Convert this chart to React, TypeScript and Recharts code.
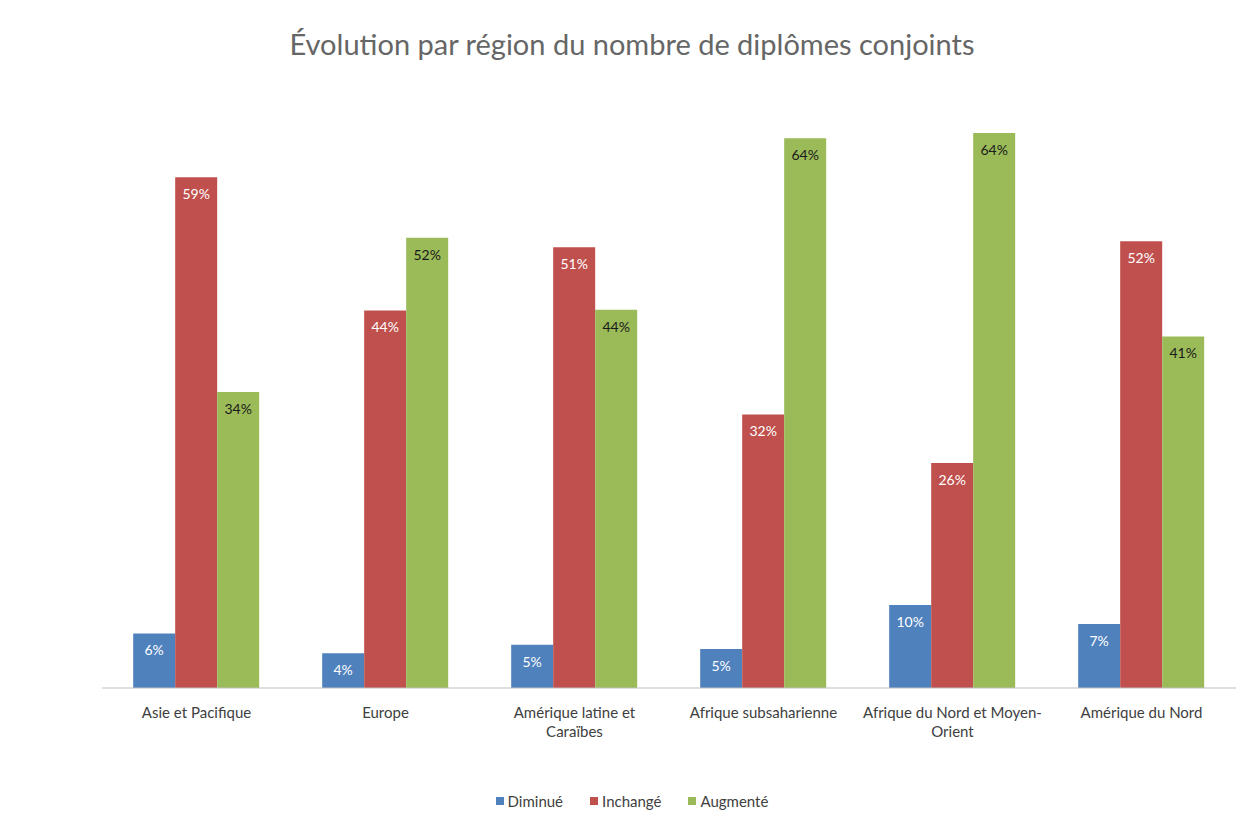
import { BarChart, Bar, XAxis, YAxis, Legend, LabelList } from "recharts";

const regions = [
  "Asie et Pacifique",
  "Europe",
  "Amérique latine et Caraïbes",
  "Afrique subsaharienne",
  "Afrique du Nord et Moyen-Orient",
  "Amérique du Nord",
];
const diminue = [6.3, 4.0, 5.0, 4.5, 9.6, 7.4];
const inchange = [59, 43.6, 50.9, 31.6, 26.0, 51.6];
const augmente = [34.2, 52.0, 43.7, 63.5, 64.1, 40.6];

const series = [
  { key: "diminue", name: "Diminué", color: "#4F81BD", label: "#fff" },
  { key: "inchange", name: "Inchangé", color: "#C0504D", label: "#fff" },
  { key: "augmente", name: "Augmenté", color: "#9BBB59", label: "#1a1a1a" },
];

const data = regions.map((name, i) => ({
  name,
  diminue: diminue[i],
  inchange: inchange[i],
  augmente: augmente[i],
}));

const FONT = "Lato, 'Open Sans', sans-serif";
const pct = (v: any) => `${Math.round(Number(v))}%`;

// break labels after spaces/hyphens, max ~25 chars per line
function wrap(label: string, max = 25) {
  const parts = label.match(/[^\s-]+-?\s*/g) || [label];
  const lines: string[] = [];
  let cur = "";
  for (const p of parts) {
    if ((cur + p).trimEnd().length > max && cur) {
      lines.push(cur.trimEnd());
      cur = p;
    } else cur += p;
  }
  if (cur) lines.push(cur.trimEnd());
  return lines;
}

const RegionTick = (props: any) => {
  const { x, y, payload } = props;
  const lines = wrap(payload.value);
  return (
    <text x={x} y={y + 22} textAnchor="middle" fill="#404040" fontSize={15} fontFamily={FONT}>
      {lines.map((l, i) => (
        <tspan key={i} x={x} dy={i === 0 ? 0 : 19}>
          {l}
        </tspan>
      ))}
    </text>
  );
};

const LegendContent = () => (
  <div style={{ display: "flex", justifyContent: "center", gap: 27, fontFamily: FONT, fontSize: 15, color: "#404040" }}>
    {series.map((s) => (
      <span key={s.key} style={{ display: "flex", alignItems: "center", gap: 4 }}>
        <span style={{ width: 8, height: 8, background: s.color, display: "inline-block" }} />
        {s.name}
      </span>
    ))}
  </div>
);

export default function App() {
  return (
    <div style={{ position: "absolute", left: 0, top: 0, width: 1241, height: 818, background: "#fff" }}>
      <div
        style={{
          position: "absolute",
          top: 26,
          left: 0,
          width: 1264,
          textAlign: "center",
          fontFamily: FONT,
          fontSize: 29,
          color: "#666",
        }}
      >
        Évolution par région du nombre de diplômes conjoints
      </div>
      <BarChart
        width={1241}
        height={818}
        data={data}
        margin={{ top: 64, right: 5, bottom: 100, left: 102 }}
        barCategoryGap="16.5%"
        barGap={0}
      >
        <XAxis
          dataKey="name"
          axisLine={{ stroke: "#bfbfbf" }}
          tickLine={false}
          interval={0}
          tick={<RegionTick />}
        />
        <YAxis hide domain={[0, 70]} />
        <Legend verticalAlign="top" content={<LegendContent />} wrapperStyle={{ top: 792, left: 0, width: 1264 }} />
        {series.map((s) => (
          <Bar key={s.key} dataKey={s.key} name={s.name} fill={s.color} isAnimationActive={false}>
            <LabelList dataKey={s.key} position="insideTop" offset={12} formatter={pct} fill={s.label} fontSize={14} fontFamily={FONT} />
          </Bar>
        ))}
      </BarChart>
    </div>
  );
}
